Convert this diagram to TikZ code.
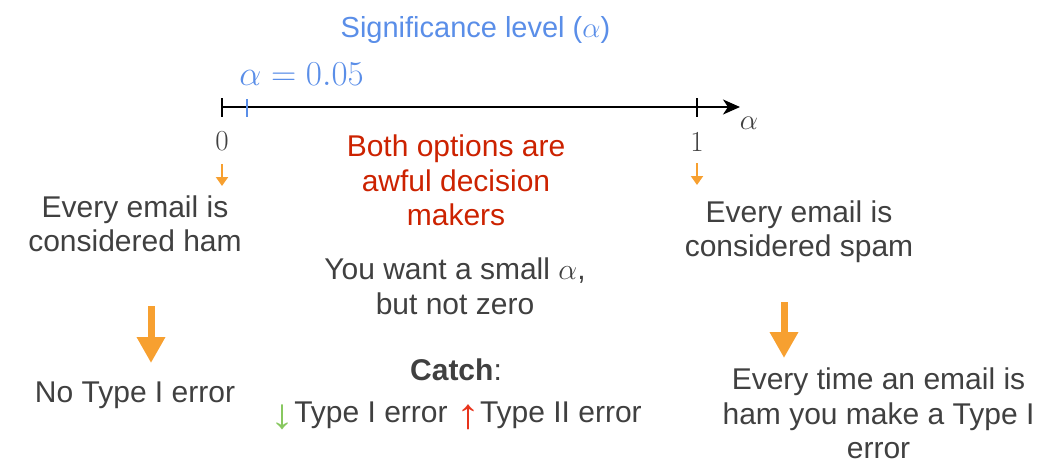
\RequirePackage{fix-cm}
\documentclass[tikz,border=0pt]{standalone}
\usepackage[no-math]{fontspec}
\setmainfont{Liberation Sans}
\usetikzlibrary{arrows.meta}
\definecolor{sigblue}{HTML}{5A8EE8}
\definecolor{warnred}{HTML}{CC2200}
\definecolor{txtgray}{HTML}{404040}
\definecolor{arrorange}{HTML}{F7A030}
\definecolor{downgreen}{HTML}{88C860}
\definecolor{upred}{HTML}{E8341C}
\newcommand{\tallarrow}[2]{\raisebox{-6pt}{\scalebox{1.6}[1.4]{\color{#1}#2}}}
\begin{document}
\begin{tikzpicture}[x=1pt,y=-1pt,
  body/.style={font=\fontsize{30}{34.5}\selectfont, text=txtgray, align=center, inner sep=0pt},
  num/.style={font=\fontsize{29}{33}\selectfont, text=txtgray, inner sep=0pt},
  axisline/.style={line width=2pt, black, -{Stealth[length=17pt,width=15pt,inset=5pt]}},
  tickline/.style={line width=2pt, black},
  alphatick/.style={line width=2pt, sigblue},
  smallarrow/.style={line width=2pt, arrorange, -{Triangle[length=9pt,width=12pt]}},
  bigarrow/.style={line width=7pt, arrorange, -{Triangle[length=26pt,width=27pt]}}
]
\useasboundingbox (0,0) rectangle (1048,474);

% title and chosen alpha
\node[body, text=sigblue, font=\fontsize{29}{34}\selectfont, anchor=base] (sig) at (475.5,37) {Significance level ($\alpha$)};
\node[anchor=base, text=sigblue, font=\fontsize{35}{40}\selectfont, inner sep=0pt] (a05) at (301.5,85) {$\alpha=0.05$};

% axis
\coordinate (ax0) at (222,107);
\coordinate (ax1) at (697,107);
\coordinate (axa) at (247,107);
\coordinate (axend) at (740,107);
\draw[axisline] (ax0) -- (axend);
\draw[tickline] (ax0) ++(0,-9) -- ++(0,19);
\draw[tickline] (ax1) ++(0,-9) -- ++(0,19);
\draw[alphatick] (axa) ++(0,-8) -- ++(0,18);
\node[num] (alab) at (749,123) {$\alpha$};
\node[num, anchor=base] (zero) at (222,150) {$0$};
\node[num, anchor=base] (one) at (697,151) {$1$};

% small arrows
\coordinate (s0a) at (222,164);
\coordinate (s0b) at (222,186);
\coordinate (s1a) at (697,163);
\coordinate (s1b) at (697,185);
\draw[smallarrow] (s0a) -- (s0b);
\draw[smallarrow] (s1a) -- (s1b);

% left column
\node[body] (ham) at (135,223.7) {Every email is\\considered ham};
\node[body, anchor=base] (noerr) at (135,402) {No Type I error};
\coordinate (b0a) at (151,306);
\coordinate (b0b) at (151,363);
\draw[bigarrow] (b0a) -- (b0b);

% right column
\node[body] (spam) at (799,231.9) {Every email is\\considered spam};
\node[body] (typeI) at (878.5,413.7) {Every time an email is\\ham you make a Type I\\error};
\coordinate (b1a) at (784,302);
\coordinate (b1b) at (784,358);
\draw[bigarrow] (b1a) -- (b1b);

% centre column
\node[body, text=warnred] (awful) at (456,180.7) {Both options are\\awful decision\\makers};
\node[body] (small) at (455,286.5) {You want a small $\alpha$,\\but not zero};
\node[body, anchor=base] (catch) at (456,380) {\textbf{Catch}:};
\node[body, anchor=base] (trade) at (456,422) {\tallarrow{downgreen}{↓}Type I error \tallarrow{upred}{↑}Type II error};
\end{tikzpicture}
\end{document}
